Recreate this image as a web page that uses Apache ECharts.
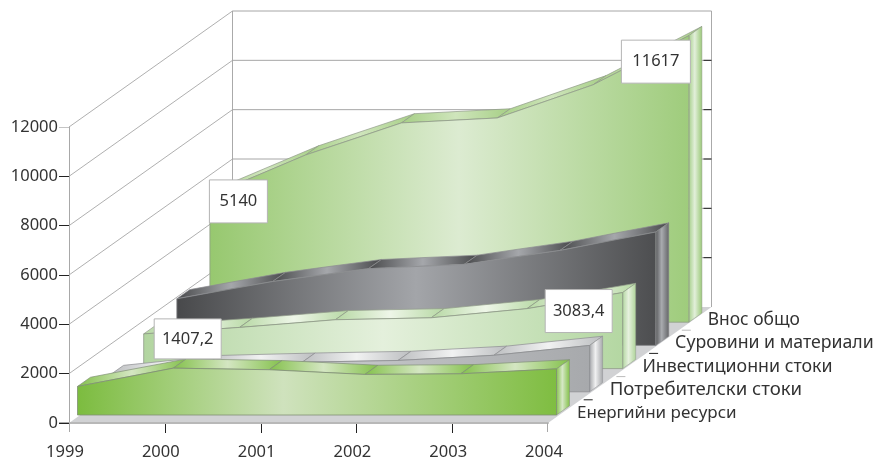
<!DOCTYPE html>
<html><head><meta charset="utf-8">
<style>html,body{margin:0;padding:0;background:#fff}#c{width:889px;height:458px}</style>
<script src="https://cdn.jsdelivr.net/npm/echarts@6/dist/echarts.min.js"></script>
</head><body><div id="c"></div>
<script>
const years = ['1999','2000','2001','2002','2003','2004'];
const energy = [1157, 1900, 1835, 1645, 1670, 1870];
const consumer = [700, 1100, 1200, 1270, 1480, 1880];
const invest = [1407.2, 1670, 1980, 2060, 2430, 3083.4];
const raw = [1890, 2590, 3110, 3285, 3850, 4597];
const total = [5140, 6780, 8080, 8280, 9624, 11617];
const seriesNames = ['Енергийни ресурси', 'Потребителски стоки', 'Инвестиционни стоки', 'Суровини и материали', 'Внос общо'];
const gridValues = [0, 2000, 4000, 6000, 8000, 10000, 12000];

const FONT = '"Noto Sans", sans-serif';
const nameSizes = [17, 18.6, 17.8, 17.7, 17.4];
const chart = echarts.init(document.getElementById('c'), null, {renderer: 'canvas'});
const DX = 33.1, DY = -23.2, NDX = 32.7, BX = 13, BY = -9.2, WX = 163.5, WY = -116;
const G = echarts.graphic.LinearGradient;
const offs = (k, back) => [8.5 + DX * k + (back ? BX : 0), -8 + DY * k + (back ? BY : 0)];
const pt = (api, i, v, k, back) => { const p = api.coord([i, v]); const o = offs(k, back); return [p[0] + o[0], p[1] + o[1]]; };
const stops3 = (a, b, c, m) => [{offset: 0, color: a}, {offset: m, color: b}, {offset: 1, color: c}];

function layerSeries(name, values, k, st) {
  return {
    type: 'custom', name, coordinateSystem: 'cartesian2d', clip: false, z: 3 + (4 - k), silent: true,
    data: values.map((v, i) => [i, v]), encode: {x: 0, y: 1},
    renderItem(params, api) {
      if (params.dataIndex !== 0) return null;
      const n = values.length, ch = [];
      const topF = values.map((v, i) => pt(api, i, v, k, false));
      const topB = values.map((v, i) => pt(api, i, v, k, true));
      const botL = pt(api, 0, 0, k, false), botR = pt(api, n - 1, 0, k, false), botRB = pt(api, n - 1, 0, k, true);
      for (let i = 0; i < n - 1; i++) {
        const x0 = topF[i][0], x1 = topB[i + 1][0];
        ch.push({type: 'polygon', shape: {points: [topF[i], topF[i + 1], topB[i + 1], topB[i]]},
          style: {fill: new G(x0, 0, x1, 0, stops3(st.top[0], st.top[1], st.top[0], 0.5), true), stroke: st.edge, lineWidth: 0.7}});
      }
      ch.push({type: 'polygon', shape: {points: [botR, topF[n - 1], topB[n - 1], botRB]},
        style: {fill: new G(botR[0], 0, botRB[0], 0, stops3(st.side[0], st.side[1], st.side[2], 0.45), true), stroke: st.edge, lineWidth: 0.5}});
      ch.push({type: 'polygon', shape: {points: [botL].concat(topF, [botR])},
        style: {fill: new G(botL[0], 0, botR[0], 0, stops3(st.front[0], st.front[1], st.front[2], st.mid), true), stroke: st.edge, lineWidth: 0.8}});
      return {type: 'group', children: ch};
    }
  };
}

const wallSeries = {
  type: 'custom', name: 'walls', clip: false, z: 1, silent: true,
  data: gridValues.map((v, i) => [0, v]), encode: {x: 0, y: 1},
  renderItem(params, api) {
    const v = gridValues[params.dataIndex];
    const a = api.coord([0, v]), r = api.coord([years.length - 1, v]);
    const bl = [a[0] + WX, a[1] + WY], br = [r[0] + WX, r[1] + WY];
    const ch = [];
    if (v === 0) {
      const t = api.coord([0, gridValues[gridValues.length - 1]]);
      ch.push({type: 'polygon', shape: {points: [a, r, br, bl]}, style: {fill: '#d1d2d4'}});
      ch.push({type: 'line', shape: {x1: bl[0], y1: bl[1], x2: t[0] + WX, y2: t[1] + WY}, style: {stroke: '#aaa', lineWidth: 1}});
      ch.push({type: 'line', shape: {x1: br[0], y1: br[1], x2: r[0] + WX, y2: t[1] + WY}, style: {stroke: '#aaa', lineWidth: 1}});
    } else {
      ch.push({type: 'line', shape: {x1: a[0], y1: a[1], x2: bl[0], y2: bl[1]}, style: {stroke: '#9a9a9a', lineWidth: 0.8}});
      ch.push({type: 'line', shape: {x1: bl[0], y1: bl[1], x2: br[0], y2: br[1]}, style: {stroke: '#a6a6a6', lineWidth: 1}});
      if (v !== 12000) ch.push({type: 'line', shape: {x1: br[0] - 8, y1: br[1], x2: br[0], y2: br[1]}, style: {stroke: '#222', lineWidth: 1}});
    }
    return {type: 'group', children: ch};
  }
};

const labelData = [[0, total[0], 4, 28.5, 6, 58, 43], [0, invest[0], 2, 44, 5, 67, 40], [5, invest[5], 2, -44, 18.5, 67, 43], [5, total[5], 4, -33, 26, 69, 43]];
const labelSeries = {
  type: 'custom', name: 'labels', clip: false, z: 12, silent: true,
  data: labelData.map(d => [d[0], d[1]]), encode: {x: 0, y: 1},
  renderItem(params, api) {
    const d = labelData[params.dataIndex];
    const p = pt(api, d[0], d[1], d[2], false);
    const cx = p[0] + d[3], cy = p[1] + d[4];
    return {type: 'group', children: [
      {type: 'rect', shape: {x: cx - d[5] / 2, y: cy - d[6] / 2, width: d[5], height: d[6]}, style: {fill: '#fff', stroke: '#b4b4b4', lineWidth: 1}},
      {type: 'text', style: {x: cx, y: cy, text: String(d[1]).replace('.', ','), font: '16.5px ' + FONT, fill: '#333', align: 'center', verticalAlign: 'middle'}}
    ]};
  }
};

const nameSeries = {
  type: 'custom', name: 'names', clip: false, z: 13, silent: true,
  data: seriesNames.map(() => [5, 0]), encode: {x: 0, y: 1},
  renderItem(params, api) {
    const k = params.dataIndex, c = api.coord([5, 0]);
    const ex = c[0] + NDX * (k + 1), ey = c[1] + DY * (k + 1);
    const ch = [{type: 'text', style: {x: c[0] + 29 + NDX * k, y: c[1] - 10 + DY * k, text: seriesNames[k], font: nameSizes[k] + 'px ' + FONT, fill: '#333', align: 'left', verticalAlign: 'middle'}}];
    if (k < 4) ch.push({type: 'line', shape: {x1: ex + 3, y1: ey, x2: ex + 12, y2: ey}, style: {stroke: k % 2 ? '#bbb' : '#222', lineWidth: 1}});
    if (k === 0) {
      const o = api.coord([0, 0]), t = api.coord([0, 12000]);
      ch.push({type: 'line', shape: {x1: o[0] + 0.5, y1: o[1], x2: o[0] + 0.5, y2: o[1] + 9}, style: {stroke: '#a8a8a8', lineWidth: 1}});
      ch.push({type: 'line', shape: {x1: c[0] - 0.5, y1: c[1], x2: c[0] - 0.5, y2: c[1] + 9}, style: {stroke: '#a8a8a8', lineWidth: 1}});
      ch.push({type: 'line', shape: {x1: o[0] - 10, y1: o[1] - 0.5, x2: o[0], y2: o[1] - 0.5}, style: {stroke: '#a8a8a8', lineWidth: 1}});
      ch.push({type: 'line', shape: {x1: t[0] - 10, y1: t[1] + 0.5, x2: t[0], y2: t[1] + 0.5}, style: {stroke: '#c4c4c4', lineWidth: 1}});
      for (let i = 1; i < years.length - 1; i++) {
        const p = api.coord([i, 0]);
        ch.push({type: 'line', shape: {x1: Math.round(p[0]) + 0.5, y1: p[1] + 1, x2: Math.round(p[0]) + 0.5, y2: p[1] + 10}, style: {stroke: '#222', lineWidth: 1}});
      }
    }
    return {type: 'group', children: ch};
  }
};

chart.setOption({
  animation: false,
  backgroundColor: '#fff',
  grid: {left: 69, top: 127, width: 479, height: 296, containLabel: false, outerBoundsMode: 'none'},
  xAxis: {type: 'category', data: years, boundaryGap: false,
    axisLine: {show: true, onZero: false, lineStyle: {color: '#b8b8b8', width: 2}},
    axisTick: {show: false},
    axisLabel: {color: '#333', fontFamily: 'Noto Sans', fontSize: 16.5, margin: 21, padding: [0, 8, 0, 0], showMinLabel: true, showMaxLabel: true, interval: 0},
    splitLine: {show: false}, z: 2},
  yAxis: {type: 'value', min: 0, max: 12000, interval: 2000,
    axisLine: {show: true, lineStyle: {color: '#a8a8a8', width: 1}},
    axisTick: {show: true, length: 10, lineStyle: {color: '#222', width: 1}},
    axisLabel: {color: '#333', fontFamily: 'Noto Sans', fontSize: 16.5, margin: 11, padding: [2, 0, 0, 0], formatter: v => String(v)},
    splitLine: {show: false}, z: 2},
  series: [
    wallSeries,
    layerSeries(seriesNames[4], total, 4, {front: ['#97c86f', '#dcebd1', '#9fcc7c'], mid: 0.52, top: ['#a6cf85', '#cfe5bc'], side: ['#a8d08d', '#e2efda', '#9cc97a'], edge: '#8f9a88'}),
    layerSeries(seriesNames[3], raw, 3, {front: ['#48494b', '#a3a5a9', '#4d4e50'], mid: 0.5, top: ['#48494b', '#a5a7ab'], side: ['#5a5b5d', '#a9abaf', '#66676a'], edge: '#8c8d90'}),
    layerSeries(seriesNames[2], invest, 2, {front: ['#b2d5a0', '#e4f0dc', '#b4d7a2'], mid: 0.5, top: ['#b6d8a3', '#eef6e8'], side: ['#b4d7a2', '#e6f1de', '#b0d49b'], edge: '#8f9a88'}),
    layerSeries(seriesNames[1], consumer, 1, {front: ['#a7a9ac', '#c4c6c8', '#a7a9ac'], mid: 0.5, top: ['#bcbec0', '#f1f2f2'], side: ['#a7a9ac', '#f0f0f1', '#a7a9ac'], edge: '#8c8d90'}),
    layerSeries(seriesNames[0], energy, 0, {front: ['#7cbc3f', '#cfe2bd', '#7fbd41'], mid: 0.43, top: ['#84c14c', '#d4e6c2'], side: ['#87c24f', '#d6e8c6', '#85c14d'], edge: '#808f75'}),
    labelSeries, nameSeries
  ]
});
</script></body></html>
